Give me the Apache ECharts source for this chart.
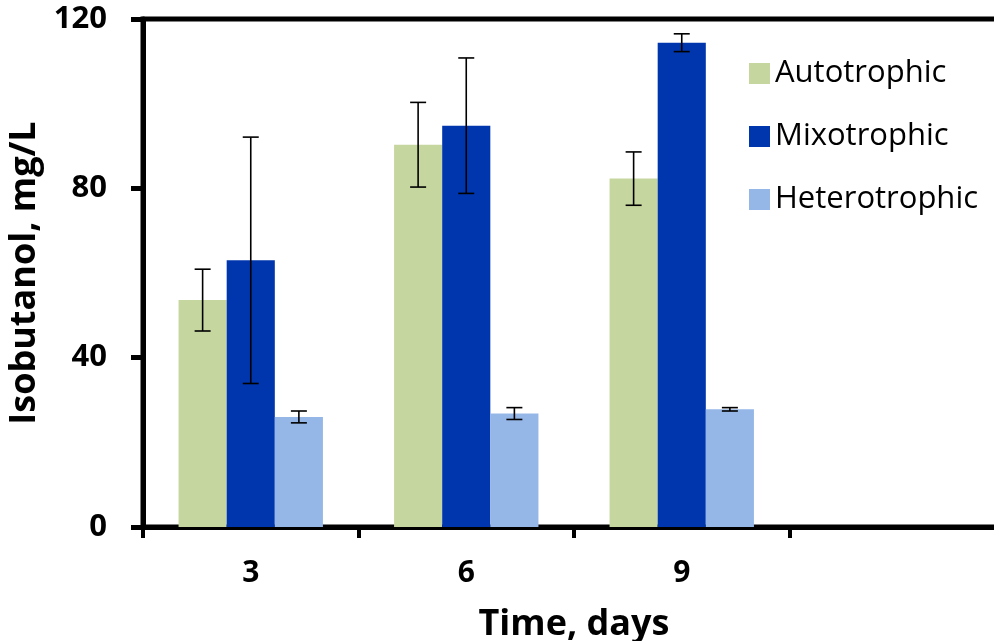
<!DOCTYPE html>
<html>
<head>
<meta charset="utf-8">
<script src="https://cdn.jsdelivr.net/npm/echarts@6/dist/echarts.min.js"></script>
<style>
html,body{margin:0;padding:0;background:#fff;}
#chart{width:994px;height:641px;}
</style>
</head>
<body>
<div id="chart"></div>
<script>
var categories = ['3', '6', '9', ''];
var seriesNames = ['Autotrophic', 'Mixotrophic', 'Heterotrophic'];
var autotrophic = [53.6, 90.3, 82.3];
var mixotrophic = [63.0, 94.8, 114.4];
var heterotrophic = [26.0, 26.8, 27.8];
var autotrophicErr = [7.3, 10.0, 6.3];
var mixotrophicErr = [29.1, 16.0, 2.1];
var heterotrophicErr = [1.4, 1.4, 0.4];
var yTicks = [0, 40, 80, 120];

var colors = ['#C6D69F', '#0036AD', '#95B7E8'];
var values = [autotrophic, mixotrophic, heterotrophic];
var errs = [autotrophicErr, mixotrophicErr, heterotrophicErr];
var GAP = 0.33;
var FONT = '"Open Sans", "Liberation Sans", sans-serif';

var chart = echarts.init(document.getElementById('chart'), null, {renderer: 'canvas'});

function errSeries(idx) {
  var data = values[idx].map(function (v, i) { return [i, v, errs[idx][i]]; });
  return {
    type: 'custom',
    name: seriesNames[idx] + ' err',
    z: 10,
    silent: true,
    data: data,
    renderItem: function (params, api) {
      var ci = api.value(0), v = api.value(1), e = api.value(2);
      var band = api.size([1, 0])[0];
      var bw = band * (1 - GAP) / 3;
      var c = api.coord([ci, v]);
      var x = c[0] + (idx - 1) * bw;
      var yHi = api.coord([ci, v + e])[1];
      var yLo = api.coord([ci, v - e])[1];
      var hw = 8;
      var st = {stroke: '#000', lineWidth: 1.6};
      return {
        type: 'group',
        children: [
          {type: 'line', shape: {x1: x, y1: yHi, x2: x, y2: yLo}, style: st},
          {type: 'line', shape: {x1: x - hw, y1: yHi, x2: x + hw, y2: yHi}, style: st},
          {type: 'line', shape: {x1: x - hw, y1: yLo, x2: x + hw, y2: yLo}, style: st}
        ]
      };
    }
  };
}

var series = [];
seriesNames.forEach(function (n, i) {
  series.push({
    type: 'bar',
    name: n,
    data: values[i],
    barGap: '0%',
    barCategoryGap: (GAP * 100) + '%',
    itemStyle: {color: colors[i]},
    z: 2
  });
});
seriesNames.forEach(function (n, i) { series.push(errSeries(i)); });

var option = {
  animation: false,
  backgroundColor: '#fff',
  grid: {
    left: 143, right: -11, top: 19, bottom: 114,
    show: true, borderColor: '#000', borderWidth: 5,
    containLabel: false,
    outerBoundsMode: 'none'
  },
  legend: {
    data: seriesNames,
    orient: 'vertical',
    left: 744,
    top: 53,
    itemWidth: 21,
    itemHeight: 21,
    itemGap: 32,
    icon: 'rect',
    textStyle: {fontFamily: FONT, fontSize: 31, color: '#000', lineHeight: 31, padding: [0, 0, 0, 0]},
    selectedMode: false
  },
  xAxis: {
    type: 'category',
    data: categories,
    boundaryGap: true,
    name: 'Time, days',
    nameLocation: 'middle',
    nameGap: 80,
    nameTextStyle: {fontFamily: FONT, fontSize: 36, fontWeight: 'bold', color: '#000'},
    axisLine: {lineStyle: {color: '#000', width: 5}},
    axisTick: {show: true, length: 11, lineStyle: {color: '#000', width: 4}},
    axisLabel: {fontFamily: FONT, fontSize: 30, fontWeight: 'bold', color: '#000', margin: 31},
    splitLine: {show: false}
  },
  yAxis: {
    type: 'value',
    min: 0, max: 120, interval: 40,
    name: 'Isobutanol, mg/L',
    nameLocation: 'middle',
    nameRotate: 90,
    nameGap: 90,
    nameTextStyle: {fontFamily: FONT, fontSize: 36, fontWeight: 'bold', color: '#000'},
    axisLine: {show: true, lineStyle: {color: '#000', width: 5}},
    axisTick: {show: true, length: 12, lineStyle: {color: '#000', width: 5}},
    axisLabel: {
      fontFamily: FONT, fontSize: 31, fontWeight: 'bold', color: '#000', margin: 36,
      formatter: function (v) { return yTicks.indexOf(v) >= 0 ? String(v) : ''; }
    },
    splitLine: {show: false}
  },
  series: series
};
chart.setOption(option);
</script>
</body>
</html>
